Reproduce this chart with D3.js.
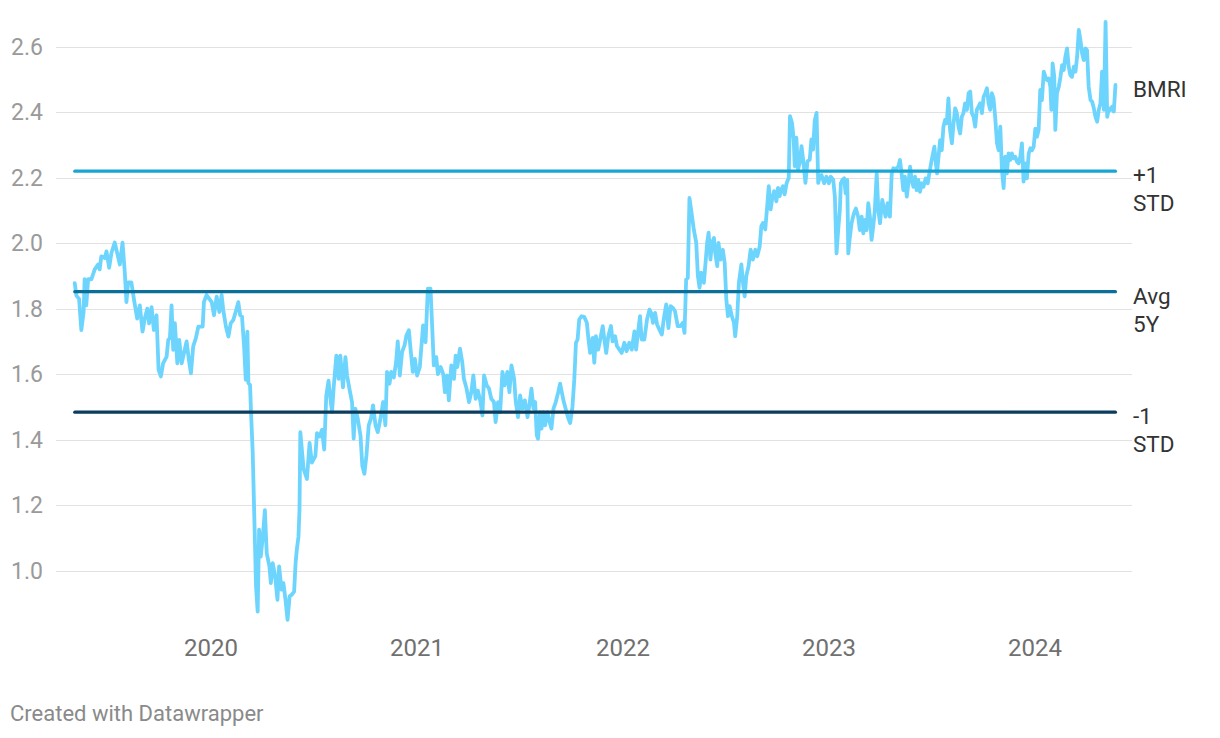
<!DOCTYPE html>
<html>
<head>
<meta charset="utf-8">
<script src="https://cdn.jsdelivr.net/npm/d3@7"></script>
<style>
	body { margin: 0; background: #fff; }
	svg { display: block; font-family: Roboto, "Noto Sans", sans-serif; }
</style>
</head>
<body>
<div id="chart"></div>
<script>
// BMRI series, [decimal year, value]
var bmri2019 = [[2019.341,1.878],[2019.349,1.84],[2019.362,1.83],[2019.373,1.735],[2019.384,1.79],[2019.389,1.89],[2019.397,1.81],[2019.406,1.89],[2019.422,1.89],[2019.438,1.92],[2019.454,1.935],[2019.462,1.92],[2019.470,1.96],[2019.487,1.955],[2019.495,1.975],[2019.508,1.925],[2019.519,1.97],[2019.535,2.002],[2019.547,1.97],[2019.560,1.935],[2019.573,2.002],[2019.584,1.91],[2019.592,1.82],[2019.600,1.88],[2019.616,1.88],[2019.628,1.83],[2019.644,1.77],[2019.657,1.81],[2019.670,1.73],[2019.681,1.77],[2019.693,1.80],[2019.702,1.755],[2019.714,1.805],[2019.725,1.735],[2019.738,1.78],[2019.748,1.613],[2019.759,1.593],[2019.770,1.633],[2019.787,1.654],[2019.795,1.705],[2019.803,1.71],[2019.811,1.81],[2019.819,1.674],[2019.827,1.756],[2019.839,1.633],[2019.848,1.705],[2019.860,1.633],[2019.871,1.664],[2019.884,1.70],[2019.895,1.644],[2019.905,1.603],[2019.916,1.685],[2019.929,1.71],[2019.941,1.745],[2019.962,1.745],[2019.968,1.82],[2019.981,1.842],[2019.994,1.83]];
var bmri2020 = [[2020.006,1.82],[2020.017,1.78],[2020.030,1.837],[2020.043,1.79],[2020.054,1.842],[2020.062,1.796],[2020.075,1.745],[2020.087,1.715],[2020.098,1.755],[2020.111,1.766],[2020.122,1.79],[2020.135,1.82],[2020.144,1.78],[2020.153,1.776],[2020.163,1.685],[2020.171,1.583],[2020.179,1.73],[2020.184,1.573],[2020.192,1.567],[2020.197,1.48],[2020.205,1.359],[2020.213,1.155],[2020.221,0.952],[2020.229,0.875],[2020.236,1.125],[2020.244,1.043],[2020.254,1.104],[2020.264,1.185],[2020.273,1.053],[2020.286,1.013],[2020.293,0.962],[2020.302,1.023],[2020.314,0.982],[2020.325,0.911],[2020.333,1.013],[2020.345,0.942],[2020.354,0.962],[2020.364,0.911],[2020.374,0.85],[2020.384,0.922],[2020.395,0.927],[2020.406,0.936],[2020.413,1.023],[2020.419,1.064],[2020.427,1.104],[2020.432,1.185],[2020.436,1.423],[2020.452,1.31],[2020.468,1.28],[2020.481,1.39],[2020.492,1.33],[2020.509,1.35],[2020.517,1.42],[2020.530,1.41],[2020.541,1.43],[2020.552,1.37],[2020.562,1.535],[2020.573,1.58],[2020.582,1.525],[2020.590,1.485],[2020.598,1.56],[2020.611,1.657],[2020.622,1.586],[2020.630,1.657],[2020.643,1.56],[2020.655,1.652],[2020.663,1.596],[2020.676,1.55],[2020.687,1.515],[2020.695,1.403],[2020.703,1.495],[2020.715,1.464],[2020.728,1.413],[2020.737,1.32],[2020.747,1.296],[2020.757,1.352],[2020.768,1.444],[2020.779,1.464],[2020.789,1.505],[2020.801,1.444],[2020.812,1.423],[2020.825,1.464],[2020.838,1.515],[2020.849,1.444],[2020.857,1.607],[2020.869,1.571],[2020.877,1.607],[2020.890,1.59],[2020.901,1.637],[2020.909,1.70],[2020.919,1.596],[2020.930,1.668],[2020.942,1.688],[2020.951,1.718],[2020.963,1.734],[2020.971,1.678],[2020.982,1.607],[2020.992,1.647]];
var bmri2021 = [[2021.003,1.596],[2021.016,1.622],[2021.023,1.678],[2021.032,1.749],[2021.044,1.698],[2021.055,1.861],[2021.068,1.861],[2021.078,1.718],[2021.084,1.627],[2021.096,1.652],[2021.104,1.60],[2021.117,1.622],[2021.130,1.60],[2021.138,1.545],[2021.149,1.596],[2021.157,1.52],[2021.169,1.627],[2021.182,1.586],[2021.190,1.657],[2021.198,1.622],[2021.211,1.678],[2021.222,1.637],[2021.230,1.586],[2021.243,1.556],[2021.255,1.515],[2021.266,1.545],[2021.276,1.596],[2021.287,1.525],[2021.298,1.55],[2021.311,1.515],[2021.320,1.474],[2021.328,1.596],[2021.341,1.566],[2021.352,1.556],[2021.363,1.525],[2021.376,1.515],[2021.384,1.454],[2021.396,1.515],[2021.406,1.484],[2021.417,1.607],[2021.428,1.566],[2021.441,1.607],[2021.451,1.545],[2021.461,1.627],[2021.474,1.586],[2021.482,1.515],[2021.493,1.469],[2021.503,1.535],[2021.514,1.495],[2021.526,1.52],[2021.539,1.469],[2021.548,1.505],[2021.558,1.556],[2021.568,1.495],[2021.576,1.515],[2021.584,1.413],[2021.590,1.403],[2021.600,1.484],[2021.607,1.434],[2021.616,1.484],[2021.624,1.444],[2021.636,1.484],[2021.644,1.459],[2021.655,1.434],[2021.665,1.495],[2021.676,1.515],[2021.688,1.545],[2021.697,1.571],[2021.714,1.518],[2021.725,1.492],[2021.736,1.467],[2021.746,1.451],[2021.757,1.50],[2021.766,1.584],[2021.774,1.696],[2021.782,1.706],[2021.790,1.767],[2021.801,1.777],[2021.814,1.775],[2021.827,1.757],[2021.834,1.711],[2021.843,1.665],[2021.855,1.711],[2021.863,1.635],[2021.871,1.716],[2021.882,1.675],[2021.892,1.706],[2021.904,1.747],[2021.912,1.706],[2021.921,1.665],[2021.931,1.716],[2021.944,1.747],[2021.952,1.70],[2021.964,1.716],[2021.973,1.686],[2021.985,1.675],[2021.996,1.665]];
var bmri2022 = [[2022.009,1.696],[2022.020,1.670],[2022.033,1.696],[2022.045,1.675],[2022.058,1.731],[2022.066,1.675],[2022.077,1.736],[2022.085,1.777],[2022.093,1.706],[2022.106,1.706],[2022.119,1.767],[2022.131,1.797],[2022.139,1.787],[2022.148,1.757],[2022.158,1.787],[2022.168,1.752],[2022.179,1.736],[2022.191,1.721],[2022.200,1.767],[2022.212,1.813],[2022.223,1.741],[2022.233,1.808],[2022.244,1.803],[2022.255,1.792],[2022.268,1.747],[2022.281,1.747],[2022.293,1.757],[2022.301,1.726],[2022.309,1.889],[2022.317,1.894],[2022.325,2.138],[2022.333,2.103],[2022.346,2.042],[2022.358,2.001],[2022.366,1.90],[2022.374,1.864],[2022.382,1.91],[2022.395,1.879],[2022.403,1.94],[2022.411,2.001],[2022.418,2.032],[2022.427,1.95],[2022.434,2.001],[2022.444,2.016],[2022.450,1.97],[2022.460,1.93],[2022.466,2.001],[2022.476,1.95],[2022.487,1.98],[2022.496,1.94],[2022.504,1.828],[2022.512,1.777],[2022.520,1.808],[2022.531,1.777],[2022.541,1.757],[2022.547,1.716],[2022.557,1.777],[2022.565,1.879],[2022.577,1.935],[2022.585,1.879],[2022.593,1.838],[2022.601,1.90],[2022.612,1.93],[2022.622,1.98],[2022.633,1.95],[2022.645,1.98],[2022.654,1.96],[2022.666,1.99],[2022.674,2.052],[2022.682,2.062],[2022.693,2.042],[2022.703,2.118],[2022.710,2.174],[2022.719,2.103],[2022.726,2.133],[2022.736,2.159],[2022.747,2.128],[2022.755,2.169],[2022.763,2.144],[2022.771,2.164],[2022.779,2.174],[2022.787,2.149],[2022.797,2.184],[2022.807,2.20],[2022.813,2.388],[2022.823,2.367],[2022.831,2.317],[2022.836,2.235],[2022.844,2.322],[2022.852,2.225],[2022.860,2.245],[2022.869,2.296],[2022.877,2.255],[2022.888,2.184],[2022.898,2.25],[2022.909,2.255],[2022.917,2.317],[2022.925,2.286],[2022.933,2.373],[2022.942,2.398],[2022.950,2.184],[2022.958,2.205],[2022.966,2.208],[2022.979,2.183],[2022.990,2.203]];
var bmri2023 = [[2023.002,2.183],[2023.011,2.203],[2023.023,2.193],[2023.031,2.142],[2023.039,1.969],[2023.047,2.04],[2023.055,2.101],[2023.060,2.183],[2023.067,2.193],[2023.076,2.198],[2023.083,2.152],[2023.091,2.193],[2023.096,1.969],[2023.104,2.02],[2023.112,2.061],[2023.123,2.091],[2023.133,2.106],[2023.144,2.081],[2023.152,2.04],[2023.161,2.081],[2023.169,2.03],[2023.177,2.071],[2023.185,2.04],[2023.193,2.122],[2023.201,2.081],[2023.209,2.01],[2023.217,2.05],[2023.225,2.101],[2023.234,2.213],[2023.242,2.101],[2023.250,2.061],[2023.261,2.132],[2023.271,2.101],[2023.277,2.081],[2023.287,2.122],[2023.298,2.081],[2023.307,2.213],[2023.315,2.229],[2023.323,2.224],[2023.331,2.229],[2023.339,2.234],[2023.347,2.254],[2023.355,2.213],[2023.363,2.162],[2023.371,2.203],[2023.380,2.142],[2023.388,2.183],[2023.396,2.234],[2023.404,2.193],[2023.412,2.172],[2023.420,2.203],[2023.428,2.162],[2023.436,2.193],[2023.444,2.157],[2023.453,2.183],[2023.461,2.172],[2023.472,2.198],[2023.482,2.183],[2023.488,2.208],[2023.498,2.244],[2023.504,2.264],[2023.514,2.295],[2023.521,2.244],[2023.527,2.213],[2023.534,2.264],[2023.542,2.315],[2023.550,2.284],[2023.558,2.356],[2023.566,2.376],[2023.574,2.366],[2023.582,2.442],[2023.590,2.346],[2023.599,2.305],[2023.607,2.366],[2023.615,2.412],[2023.623,2.397],[2023.631,2.356],[2023.639,2.335],[2023.647,2.386],[2023.655,2.397],[2023.663,2.427],[2023.672,2.407],[2023.680,2.458],[2023.688,2.463],[2023.696,2.397],[2023.704,2.386],[2023.712,2.356],[2023.720,2.407],[2023.728,2.417],[2023.736,2.427],[2023.745,2.397],[2023.753,2.447],[2023.761,2.458],[2023.769,2.473],[2023.777,2.427],[2023.785,2.407],[2023.793,2.458],[2023.801,2.442],[2023.809,2.386],[2023.818,2.305],[2023.826,2.284],[2023.834,2.356],[2023.842,2.223],[2023.850,2.168],[2023.858,2.264],[2023.866,2.213],[2023.874,2.274],[2023.882,2.254],[2023.890,2.274],[2023.899,2.259],[2023.907,2.264],[2023.915,2.249],[2023.923,2.244],[2023.931,2.264],[2023.939,2.305],[2023.947,2.188],[2023.955,2.244],[2023.963,2.198],[2023.972,2.274],[2023.980,2.29],[2023.988,2.284],[2023.996,2.295]];
var bmri2024 = [[2024.004,2.35],[2024.012,2.325],[2024.020,2.346],[2024.028,2.468],[2024.036,2.437],[2024.045,2.524],[2024.053,2.508],[2024.061,2.498],[2024.069,2.503],[2024.077,2.478],[2024.082,2.407],[2024.088,2.549],[2024.096,2.508],[2024.101,2.346],[2024.109,2.458],[2024.118,2.478],[2024.126,2.508],[2024.134,2.544],[2024.142,2.529],[2024.150,2.57],[2024.158,2.595],[2024.166,2.539],[2024.174,2.513],[2024.182,2.508],[2024.191,2.539],[2024.199,2.524],[2024.207,2.57],[2024.215,2.651],[2024.223,2.62],[2024.231,2.58],[2024.239,2.559],[2024.247,2.595],[2024.255,2.59],[2024.263,2.478],[2024.272,2.437],[2024.280,2.432],[2024.288,2.412],[2024.296,2.386],[2024.304,2.371],[2024.312,2.407],[2024.320,2.427],[2024.328,2.524],[2024.337,2.407],[2024.345,2.676],[2024.353,2.386],[2024.361,2.412],[2024.369,2.407],[2024.377,2.417],[2024.385,2.402],[2024.393,2.483]];

// 5Y average and +/- 1 standard deviation bands
var refValues = [2.220, 1.852, 1.484];
var refLabels = [["+1", "STD"], ["Avg", "5Y"], ["-1", "STD"]];
var refColors = ["#1aa6d4", "#0b6f99", "#0b3c5d"];

var yTicks = [1.0, 1.2, 1.4, 1.6, 1.8, 2.0, 2.2, 2.4, 2.6];
var xTicks = [2020, 2021, 2022, 2023, 2024];

var series = [].concat(bmri2019, bmri2020, bmri2021, bmri2022, bmri2023, bmri2024);

var width = 1220, height = 738;

var svg = d3.select("#chart").append("svg")
	.attr("width", width)
	.attr("height", height);

var x = d3.scaleLinear()
	.domain([2020, 2024])
	.range([210.5, 1034.5]);

var y = d3.scaleLinear()
	.domain([1.0, 2.6])
	.range([570.7, 46.7]);

// gridlines + y labels
var grid = svg.append("g").attr("class", "grid");
grid.selectAll("line")
	.data(yTicks)
	.enter().append("line")
	.attr("x1", 56)
	.attr("x2", 1132)
	.attr("y1", function(d) { return Math.round(y(d)) + 0.5; })
	.attr("y2", function(d) { return Math.round(y(d)) + 0.5; })
	.attr("stroke", "#e2e2e2")
	.attr("stroke-width", 1.2);

grid.selectAll("text")
	.data(yTicks)
	.enter().append("text")
	.text(function(d) { return d3.format(".1f")(d); })
	.attr("x", 43)
	.attr("y", function(d) { return y(d); })
	.attr("dy", "0.36em")
	.attr("text-anchor", "end")
	.attr("fill", "#9a9a9a")
	.style("font-size", "23px");

// x axis labels
var xAxis = svg.append("g")
	.attr("transform", "translate(0,656)")
	.call(d3.axisBottom(x).tickValues(xTicks).tickFormat(d3.format("d")).tickSize(0));
xAxis.select(".domain").remove();
xAxis.selectAll("text")
	.attr("y", 0)
	.attr("dy", 0)
	.attr("fill", "#707070")
	.style("font-family", "Roboto, sans-serif")
	.style("font-size", "24px");

// BMRI line
var line = d3.line()
	.x(function(d) { return x(d[0]); })
	.y(function(d) { return y(d[1]); });

svg.append("path")
	.datum(series)
	.attr("d", line)
	.attr("fill", "none")
	.attr("stroke", "#6dd5fd")
	.attr("stroke-width", 3.8)
	.attr("stroke-linejoin", "round")
	.attr("stroke-linecap", "round");

// reference lines span the same dates as the series
var first = series[0][0], last = series[series.length - 1][0];
var refs = svg.append("g").attr("class", "refs");
refValues.forEach(function(v, i) {
	refs.append("path")
		.datum([[first, v], [last, v]])
		.attr("d", line)
		.attr("fill", "none")
		.attr("stroke", refColors[i])
		.attr("stroke-width", 3.2)
		.attr("stroke-linecap", "round");
	var t = refs.append("text")
		.attr("x", 1133)
		.attr("y", y(v) + 12)
		.attr("fill", "#333")
		.style("font-size", "22.5px");
	refLabels[i].forEach(function(s, j) {
		t.append("tspan")
			.attr("x", 1133)
			.attr("dy", j == 0 ? 0 : 28)
			.text(s);
	});
});

// series label at last value
svg.append("text")
	.text("BMRI")
	.attr("x", 1133)
	.attr("y", y(series[series.length - 1][1]) + 12)
	.attr("fill", "#333")
	.style("font-size", "22.5px");

svg.append("text")
	.text("Created with Datawrapper")
	.attr("x", 10)
	.attr("y", 721)
	.attr("fill", "#8a8a8a")
	.style("font-size", "22px");
</script>
</body>
</html>
